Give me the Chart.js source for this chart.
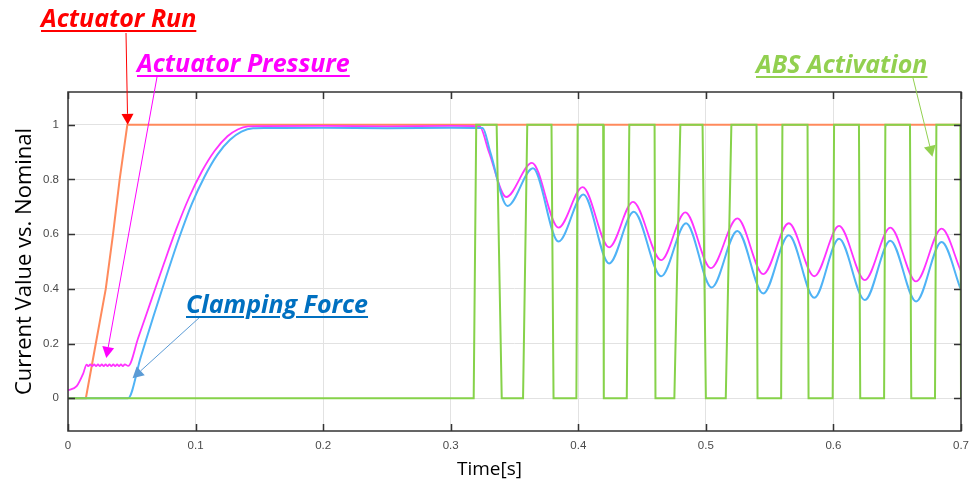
<!DOCTYPE html>
<html>
<head>
<meta charset="utf-8">
<script src="https://cdn.jsdelivr.net/npm/chart.js@4.4.0/dist/chart.umd.min.js"></script>
<style>
  html, body { margin: 0; padding: 0; background: #fff; }
  #wrap { position: relative; width: 977px; height: 481px; }
  #chart { position: absolute; left: 0; top: 0; }
  .note {
    position: absolute;
    font-family: "Open Sans", sans-serif;
    font-weight: 700;
    font-style: italic;
    font-size: 25px;
    line-height: 1;
    white-space: nowrap;
    text-decoration: underline;
    text-decoration-thickness: 2px;
    text-underline-offset: 3px;
  }
  #xtitle {
    position: absolute;
    left: 457px;
    top: 456px;
    font-family: "Open Sans", sans-serif;
    font-size: 19px;
    line-height: 24px;
    color: #000;
  }
</style>
</head>
<body>
<div id="wrap">
  <canvas id="chart" width="977" height="481"></canvas>
  <div class="note" style="left:41px; top:5px; color:#ff0000">Actuator Run</div>
  <div class="note" style="left:137px; top:50px; color:#ff00ff">Actuator Pressure</div>
  <div class="note" style="left:186px; top:291px; color:#0070c0">Clamping Force</div>
  <div class="note" style="left:756px; top:51px; color:#92d050">ABS Activation</div>
  <div id="xtitle">Time[s]</div>
</div>
<script>
// axis ticks
const xTicks = [0, 0.1, 0.2, 0.3, 0.4, 0.5, 0.6, 0.7];
const xTickLabels = ['0', '0.1', '0.2', '0.3', '0.4', '0.5', '0.6', '0.7'];
const yTicks = [0, 0.2, 0.4, 0.6, 0.8, 1];
const yTickLabels = ['0', '0.2', '0.4', '0.6', '0.8', '1'];

// Actuator Run
const runT = [0, 0.014, 0.0218, 0.0296, 0.0353, 0.0405, 0.0465, 0.7];
const runV = [0, 0, 0.2, 0.4, 0.6, 0.8, 1, 1];

// Actuator Pressure
const presT = [0, 0.0068, 0.0119, 0.0146,
  0.016, 0.0175, 0.019, 0.0205, 0.022, 0.0235, 0.025, 0.0265, 0.028, 0.0295, 0.031,
  0.0325, 0.034, 0.0355, 0.037, 0.0385, 0.04, 0.0415, 0.043, 0.0445, 0.0472,
  0.055, 0.065, 0.075, 0.085, 0.095, 0.105, 0.115, 0.125, 0.133, 0.141, 0.15,
  0.2, 0.25, 0.3, 0.3225, 0.33, 0.3435, 0.3637, 0.3845, 0.4034, 0.4242, 0.4429, 0.465,
  0.4839, 0.5039, 0.5247, 0.545, 0.565, 0.585, 0.6044, 0.6246, 0.6446, 0.6648, 0.6848, 0.7];
const presV = [0.029, 0.044, 0.09, 0.123,
  0.117, 0.124, 0.117, 0.124, 0.117, 0.124, 0.117, 0.124, 0.117, 0.124, 0.117,
  0.124, 0.117, 0.124, 0.117, 0.124, 0.117, 0.124, 0.117, 0.124, 0.118,
  0.22, 0.355, 0.49, 0.62, 0.735, 0.83, 0.905, 0.958, 0.983, 0.994, 0.995,
  0.996, 0.994, 0.996, 0.995, 0.9, 0.736, 0.861, 0.624, 0.772, 0.552, 0.718, 0.505,
  0.68, 0.476, 0.658, 0.454, 0.64, 0.446, 0.63, 0.432, 0.624, 0.427, 0.62, 0.464];

// Clamping Force
const clampT = [0, 0.047, 0.057, 0.067, 0.077, 0.087, 0.097, 0.107, 0.117, 0.127, 0.136,
  0.145, 0.155, 0.2, 0.25, 0.3, 0.325, 0.331, 0.3445, 0.3645, 0.3845, 0.404, 0.4242,
  0.4435, 0.465, 0.4845, 0.5045, 0.5247, 0.545, 0.565, 0.585, 0.6044, 0.6246, 0.6446,
  0.6648, 0.6848, 0.7];
const clampV = [0, 0, 0.15, 0.3, 0.445, 0.585, 0.71, 0.81, 0.89, 0.945, 0.975,
  0.987, 0.988, 0.989, 0.987, 0.989, 0.988, 0.9, 0.703, 0.841, 0.573, 0.745, 0.493,
  0.682, 0.446, 0.64, 0.405, 0.612, 0.383, 0.596, 0.367, 0.583, 0.359, 0.576,
  0.354, 0.571, 0.396];

// ABS Activation
const absT = [0, 0.318, 0.32, 0.336, 0.34, 0.3567, 0.36, 0.379, 0.3806, 0.3985, 0.3995,
  0.4195, 0.42, 0.438, 0.44, 0.4598, 0.4605, 0.4753, 0.48, 0.4974, 0.5, 0.5156, 0.52,
  0.5397, 0.5405, 0.559, 0.56, 0.5797, 0.5805, 0.5994, 0.6005, 0.62, 0.621, 0.6397,
  0.6407, 0.66, 0.661, 0.6796, 0.6807, 0.6995, 0.7];
const absV = [0, 0, 1, 1, 0, 0, 1, 1, 0, 0, 1,
  1, 0, 0, 1, 1, 0, 0, 1, 1, 0, 0, 1,
  1, 0, 0, 1, 1, 0, 0, 1, 1, 0, 0,
  1, 1, 0, 0, 1, 1, 0];

function pts(t, v) {
  return t.map((x, i) => ({ x: x, y: v[i] }));
}

// arrows: start in pixels (under the label), tip at a data point
const arrows = [
  { from: [126, 33], tip: [0.0468, 1.0], color: '#ff0000', head: 11 },
  { from: [157, 77], tip: [0.030, 0.147], color: '#ff00ff', head: 11 },
  { from: [200, 317], tip: [0.0506, 0.073], color: '#5b9bd5', head: 11 },
  { from: [913, 78], tip: [0.6776, 0.883], color: '#92d050', head: 11 }
];

const frame = {
  id: 'frame',
  afterDraw(chart) {
    const ctx = chart.ctx;
    const a = chart.chartArea;
    const xs = chart.scales.x, ys = chart.scales.y;
    ctx.save();
    ctx.strokeStyle = '#333';
    ctx.lineWidth = 1.5;
    ctx.strokeRect(a.left, a.top, a.right - a.left, a.bottom - a.top);
    ctx.beginPath();
    xTicks.forEach(v => {
      const px = Math.round(xs.getPixelForValue(v)) + 0.5;
      ctx.moveTo(px, a.bottom); ctx.lineTo(px, a.bottom - 7);
      ctx.moveTo(px, a.top); ctx.lineTo(px, a.top + 7);
    });
    yTicks.forEach(v => {
      const py = Math.round(ys.getPixelForValue(v)) + 0.5;
      ctx.moveTo(a.left, py); ctx.lineTo(a.left + 7, py);
      ctx.moveTo(a.right, py); ctx.lineTo(a.right - 7, py);
    });
    ctx.stroke();

    arrows.forEach(ar => {
      const tx = xs.getPixelForValue(ar.tip[0]);
      const ty = ys.getPixelForValue(ar.tip[1]);
      const [fx, fy] = ar.from;
      const ang = Math.atan2(ty - fy, tx - fx);
      const bx = tx - ar.head * Math.cos(ang), by = ty - ar.head * Math.sin(ang);
      ctx.strokeStyle = ar.color;
      ctx.fillStyle = ar.color;
      ctx.lineWidth = 1;
      ctx.beginPath();
      ctx.moveTo(fx, fy); ctx.lineTo(bx, by);
      ctx.stroke();
      const w = 6;
      ctx.beginPath();
      ctx.moveTo(tx, ty);
      ctx.lineTo(bx + w * Math.sin(ang), by - w * Math.cos(ang));
      ctx.lineTo(bx - w * Math.sin(ang), by + w * Math.cos(ang));
      ctx.closePath();
      ctx.fill();
    });
    ctx.restore();
  }
};

const ctx = document.getElementById('chart');
const chart = new Chart(ctx, {
  type: 'line',
  data: {
    datasets: [
      {
        label: 'ABS Activation',
        data: pts(absT, absV),
        borderColor: '#86d24a',
        borderWidth: 2,
        tension: 0,
        order: 0
      },
      {
        label: 'Clamping Force',
        data: pts(clampT, clampV),
        borderColor: '#4fb3f6',
        borderWidth: 2,
        cubicInterpolationMode: 'monotone',
        order: 1
      },
      {
        label: 'Actuator Pressure',
        data: pts(presT, presV),
        borderColor: '#ff33ff',
        borderWidth: 1.8,
        cubicInterpolationMode: 'monotone',
        order: 2
      },
      {
        label: 'Actuator Run',
        data: pts(runT, runV),
        borderColor: '#ff8a5c',
        borderWidth: 2,
        tension: 0,
        order: 3
      }
    ]
  },
  options: {
    responsive: false,
    animation: false,
    events: [],
    elements: { point: { radius: 0 } },
    layout: { padding: { left: 0, top: 92, right: 10, bottom: 0 } },
    plugins: { legend: { display: false }, tooltip: { enabled: false } },
    scales: {
      x: {
        type: 'linear',
        min: 0,
        max: 0.7,
        afterFit: s => { s.height = 50; },
        afterBuildTicks: s => { s.ticks = xTicks.map(v => ({ value: v })); },
        ticks: {
          padding: 8,
          color: '#4a4a4a',
          font: { family: 'Liberation Sans', size: 11.5 },
          maxRotation: 0,
          callback: (v) => xTickLabels[xTicks.indexOf(v)]
        },
        grid: { color: '#e2e2e2', drawTicks: false },
        border: { display: false }
      },
      y: {
        type: 'linear',
        min: -0.12,
        max: 1.12,
        afterFit: s => { s.width = 68; },
        afterBuildTicks: s => { s.ticks = yTicks.map(v => ({ value: v })); },
        ticks: {
          padding: 9,
          color: '#4a4a4a',
          font: { family: 'Liberation Sans', size: 11.5 },
          callback: (v) => yTickLabels[yTicks.indexOf(v)]
        },
        grid: { color: '#e2e2e2', drawTicks: false },
        border: { display: false },
        title: {
          display: true,
          text: 'Current Value vs. Nominal',
          color: '#000',
          font: { family: 'Open Sans', size: 22 },
          padding: { top: 12, bottom: 0 }
        }
      }
    }
  },
  plugins: [frame]
});
</script>
</body>
</html>
